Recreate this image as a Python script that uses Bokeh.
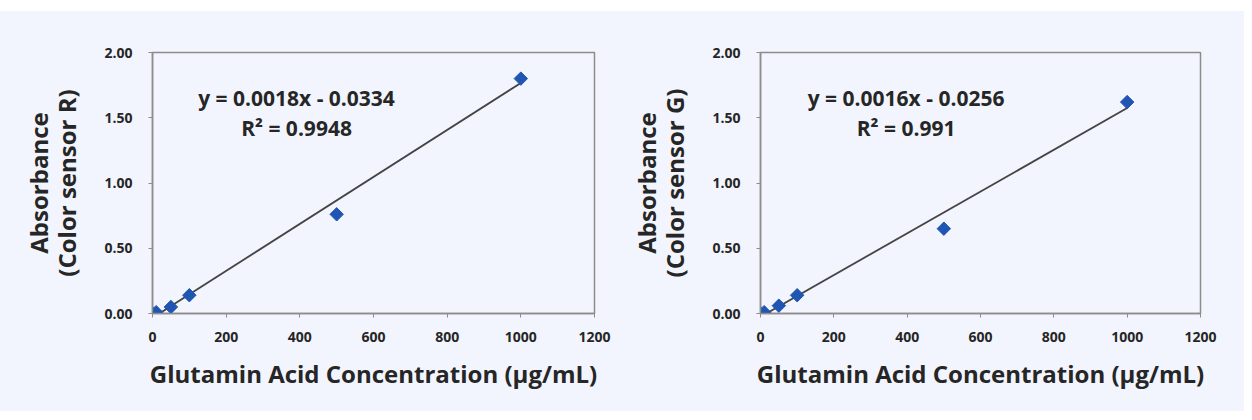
import math
from bokeh.plotting import figure
from bokeh.layouts import row, column
from bokeh.models import Spacer, FixedTicker, NumeralTickFormatter, Range1d, LinearAxis
from bokeh.core.properties import value
from bokeh.embed import file_html
from bokeh.resources import INLINE

# ---- data ----
conc = [0, 10, 50, 100, 500, 1000]
abs_r = [0.00, 0.01, 0.05, 0.14, 0.76, 1.80]
abs_g = [0.00, 0.01, 0.06, 0.14, 0.65, 1.62]
fit_r = [0.0018, -0.0334]   # slope, intercept
fit_g = [0.0016, -0.0256]
eq_r = ["y = 0.0018x - 0.0334", "R² = 0.9948"]
eq_g = ["y = 0.0016x - 0.0256", "R² = 0.991"]
x_ticks = [0, 200, 400, 600, 800, 1000, 1200]
y_ticks = [0.0, 0.5, 1.0, 1.5, 2.0]
x_label = "Glutamin Acid Concentration (µg/mL)"
y_label_top = "Absorbance"
y_label_sub = ["(Color sensor R)", "(Color sensor G)"]

BG = "#f2f5fd"
FONT = "Open Sans"
TXT = "#262626"
GRAY = "#8c8c8c"


def style_label(ax, size):
    ax.axis_label_text_font = FONT
    ax.axis_label_text_font_style = "bold"
    ax.axis_label_text_font_size = size
    ax.axis_label_text_color = TXT


def make(ys, fit, eq, ysub, width, bl, br, eqx):
    p = figure(width=width, height=400, output_backend="svg", toolbar_location=None,
               x_range=Range1d(0, 1200), y_range=Range1d(0, 2.0),
               min_border_left=bl, min_border_right=br, min_border_top=41, min_border_bottom=98)
    p.background_fill_color = BG
    p.border_fill_color = BG
    p.outline_line_color = GRAY
    p.outline_line_width = 1.5
    p.xgrid.visible = False
    p.ygrid.visible = False
    for ax in (p.xaxis[0], p.yaxis[0]):
        ax.axis_line_color = GRAY
        ax.axis_line_width = 1.5
        ax.major_tick_line_color = GRAY
        ax.major_tick_in = 0
        ax.major_tick_out = 4
        ax.minor_tick_line_color = None
        ax.major_label_text_font = FONT
        ax.major_label_text_font_style = "bold"
        ax.major_label_text_font_size = "14px"
        ax.major_label_text_color = TXT
    style_label(p.xaxis[0], "24px")
    style_label(p.yaxis[0], "24px")
    p.xaxis.ticker = FixedTicker(ticks=x_ticks)
    p.yaxis.ticker = FixedTicker(ticks=y_ticks)
    p.yaxis.formatter = NumeralTickFormatter(format="0.00")
    p.xaxis.major_label_standoff = 14
    p.yaxis.major_label_standoff = 16
    p.xaxis.axis_label = x_label
    p.xaxis.axis_label_standoff = 12
    p.yaxis.axis_label = ysub
    p.yaxis.axis_label_standoff = 18

    ax2 = LinearAxis(axis_label=y_label_top, ticker=FixedTicker(ticks=[]),
                     major_label_text_font_size="0px", axis_line_color=None,
                     major_tick_line_color=None, minor_tick_line_color=None,
                     major_tick_out=0, major_label_standoff=0, axis_label_standoff=-7)
    style_label(ax2, "24px")
    p.add_layout(ax2, "left")

    lx = [0, max(conc)]
    ly = [fit[0] * v + fit[1] for v in lx]
    p.line(lx, ly, line_color="#444444", line_width=1.8)
    p.scatter(conc, ys, marker="square", angle=math.pi / 4, size=9.5,
              fill_color="#1f55b3", line_color="#1f55b3")
    p.text(x=[eqx, eqx], y=[1.655, 1.418], text=eq, text_align="center",
           text_baseline="middle", text_font=value(FONT), text_font_size="21px",
           text_font_style="bold", text_color=TXT)
    return p


p1 = make(abs_r, fit_r, eq_r, y_label_sub[0], 626, 152, 32, 391)
p2 = make(abs_g, fit_g, eq_g, y_label_sub[1], 618, 133, 44, 397)

layout = column(Spacer(height=11), row(p1, p2, styles={"background-color": BG}))
open("out.html", "w").write(file_html(layout, INLINE))
